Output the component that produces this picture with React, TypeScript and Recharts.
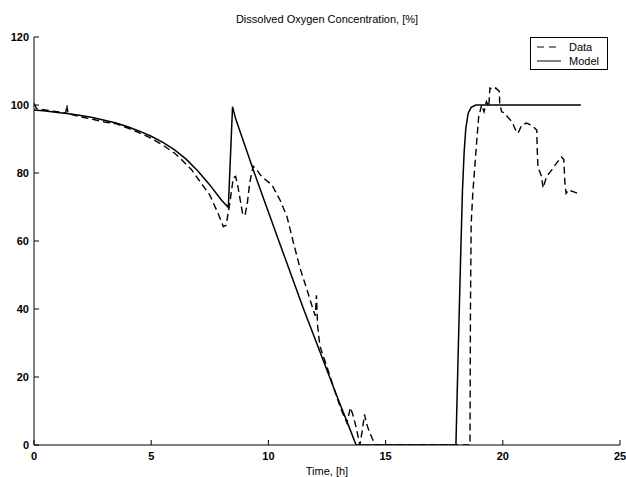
import React from "react";
import { LineChart, Line, XAxis, YAxis } from "recharts";

const xTicks = [0, 5, 10, 15, 20, 25];
const yTicks = [0, 20, 40, 60, 80, 100, 120];

const modelT = [0, 0.5, 1, 1.5, 2, 2.5, 3, 3.5, 4, 4.5, 5, 5.5, 6, 6.5, 7, 7.5, 8, 8.29, 8.47, 8.6, 9.0, 9.35, 10, 10.5, 11, 11.5, 12, 12.5, 13, 13.5, 13.74, 15, 16, 17, 18.0, 18.1, 18.2, 18.28, 18.35, 18.42, 18.52, 18.65, 18.85, 20, 21, 22, 23, 23.33];
const modelV = [98.5, 98.2, 97.8, 97.4, 96.9, 96.3, 95.5, 94.7, 93.6, 92.3, 90.8, 89, 86.8, 84, 80.5, 76.5, 72, 69.9, 99.5, 96, 88, 81, 68.5, 59, 49.5, 40, 31, 22, 13, 4.3, 0, 0, 0, 0, 0, 28, 55, 75, 86, 93, 97.5, 99.3, 100, 100, 100, 100, 100, 100];

const dataT = [0, 0.1, 0.3, 0.7, 1.0, 1.35, 1.4, 1.45, 2.0, 2.5, 3.0, 3.5, 4.0, 4.5, 5.0, 5.5, 6.0, 6.23, 6.73, 7.08, 7.5, 7.86, 8.08, 8.2, 8.35, 8.5, 8.6, 8.7, 8.9, 9.0, 9.1, 9.2, 9.35, 9.5, 9.7, 10.15, 10.5, 10.8, 11.05, 11.35, 11.65, 11.9, 12.0, 12.05, 12.1, 12.2, 12.5, 12.8, 13.1, 13.35, 13.5, 13.6, 13.75, 13.9, 14.0, 14.1, 14.2, 14.3, 14.55, 16, 18.6, 18.62, 18.65, 18.72, 18.85, 18.97, 19.1, 19.2, 19.3, 19.4, 19.45, 19.6, 19.7, 19.85, 19.87, 19.95, 20.1, 20.2, 20.4, 20.55, 20.65, 20.8, 21.0, 21.25, 21.45, 21.47, 21.5, 21.65, 21.72, 21.87, 22.1, 22.3, 22.5, 22.6, 22.65, 22.7, 22.8, 23.0, 23.2];
const dataV = [100.5, 99, 98.7, 98.3, 98, 97.6, 100, 97.5, 96.5, 95.8, 95, 94.5, 93.2, 91.8, 90.2, 88.2, 85.8, 84.4, 80.9, 77.5, 73.5, 68, 64.2, 64.7, 71, 78.5, 79, 76, 68, 67.5, 71, 77, 82, 81, 79, 76.5, 72, 67, 60, 52, 45.6, 40, 38, 44, 35, 29, 23, 16.5, 10.5, 6.5, 11, 9, 5, 0, 4, 9, 6, 4, 0, 0, 0, 40, 65, 74, 86, 96.5, 100, 98, 101, 99.5, 105, 104.5, 105, 104, 100.5, 98, 97.6, 96.5, 95, 92.6, 91.7, 94, 94.7, 94, 92.6, 86.8, 81.8, 79, 75.6, 79, 81, 83, 84.7, 84, 77, 74, 75, 74.5, 74];

const modelData = modelT.map((t, i) => ({ t, v: modelV[i] }));
const measData = dataT.map((t, i) => ({ t, v: dataV[i] }));

const font = "Arial, 'Liberation Sans', sans-serif";

const LegendBox = () => (
  <div
    style={{
      position: "absolute",
      left: 530,
      top: 37,
      width: 78,
      height: 33,
      border: "1px solid #000",
      background: "#fff",
      fontFamily: font,
      fontSize: 11,
      color: "#000",
      boxSizing: "border-box",
    }}
  >
    <div style={{ display: "flex", alignItems: "center", height: 15, marginTop: 1 }}>
      <svg width={38} height={10}>
        <line x1={6} y1={5} x2={30} y2={5} stroke="#000" strokeWidth={1} strokeDasharray="7 5" />
      </svg>
      <span>Data</span>
    </div>
    <div style={{ display: "flex", alignItems: "center", height: 14 }}>
      <svg width={38} height={10}>
        <line x1={6} y1={5} x2={30} y2={5} stroke="#000" strokeWidth={1} />
      </svg>
      <span>Model</span>
    </div>
  </div>
);

export default function App() {
  return (
    <div style={{ position: "absolute", left: 0, top: 0, width: 626, height: 477, background: "#fff" }}>
      <div
        style={{
          position: "absolute",
          left: 0,
          width: 654,
          top: 13,
          textAlign: "center",
          fontFamily: font,
          fontSize: 11,
          color: "#000",
        }}
      >
        Dissolved Oxygen Concentration, [%]
      </div>
      <LineChart width={626} height={477} margin={{ top: 37, right: 6, bottom: 0, left: 0 }}>
        <XAxis
          type="number"
          dataKey="t"
          domain={[0, 25]}
          ticks={xTicks}
          allowDataOverflow
          height={32}
          tickSize={-5}
          tickMargin={12}
          axisLine={{ stroke: "#000", strokeWidth: 1 }}
          tickLine={{ stroke: "#000" }}
          tick={{ fill: "#000", fontSize: 11, fontWeight: "bold", fontFamily: font }}
          label={{ value: "Time, [h]", position: "insideBottom", offset: 2, fill: "#000", fontSize: 11, fontFamily: font }}
        />
        <YAxis
          type="number"
          dataKey="v"
          domain={[0, 120]}
          ticks={yTicks}
          allowDataOverflow
          width={34}
          tickSize={-5}
          tickMargin={10}
          axisLine={{ stroke: "#000", strokeWidth: 1 }}
          tickLine={{ stroke: "#000" }}
          tick={{ fill: "#000", fontSize: 11, fontWeight: "bold", fontFamily: font }}
        />
        <Line
          data={measData}
          dataKey="v"
          type="linear"
          stroke="#000"
          strokeWidth={1.4}
          strokeDasharray="7 4"
          dot={false}
          isAnimationActive={false}
          legendType="none"
        />
        <Line
          data={modelData}
          dataKey="v"
          type="linear"
          stroke="#000"
          strokeWidth={1.5}
          dot={false}
          isAnimationActive={false}
          legendType="none"
        />
      </LineChart>
      <LegendBox />
    </div>
  );
}
